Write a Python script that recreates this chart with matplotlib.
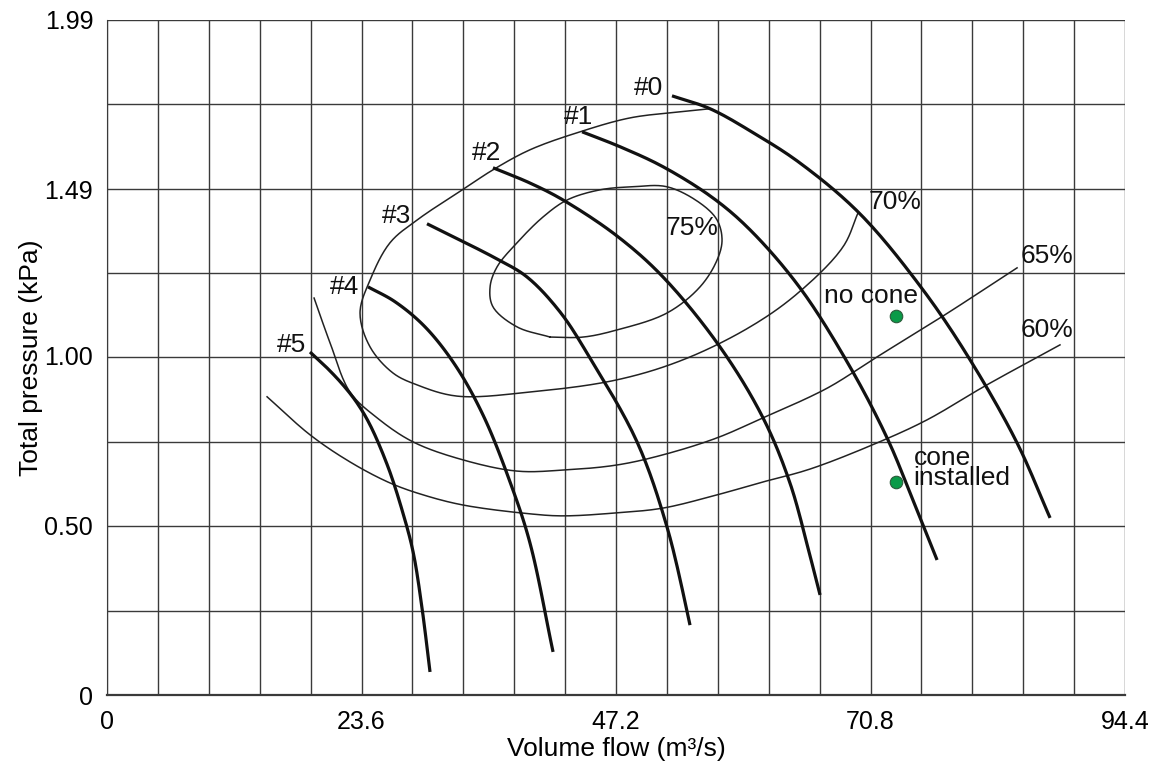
import numpy as np
import matplotlib
matplotlib.use("Agg")
import matplotlib.pyplot as plt

plt.rcParams['font.family'] = ['Liberation Sans', 'DejaVu Sans']

# fan curves (thick), volume flow m3/s vs total pressure kPa
fan0_x = [52.39, 55.92, 60.09, 64.26, 69.83, 75.67, 80.03, 84.39, 87.45]
fan0_y = [1.766, 1.728, 1.654, 1.568, 1.418, 1.194, 0.988, 0.743, 0.522]
fan1_x = [44.05, 47.57, 51.56, 56.19, 59.63, 64.26, 68.90, 72.42, 74.65, 76.97]
fan1_y = [1.660, 1.616, 1.557, 1.465, 1.371, 1.200, 0.967, 0.752, 0.581, 0.398]
fan2_x = [35.79, 39.22, 42.29, 47.29, 51.56, 56.84, 60.83, 63.33, 65.19, 66.12]
fan2_y = [1.554, 1.509, 1.459, 1.353, 1.232, 1.026, 0.817, 0.625, 0.410, 0.295]
fan3_x = [29.67, 36.17, 38.95, 42.01, 44.79, 49.15, 51.93, 53.78, 54.06]
fan3_y = [1.389, 1.285, 1.232, 1.129, 0.993, 0.746, 0.495, 0.248, 0.206]
fan4_x = [24.20, 26.71, 29.49, 32.27, 34.87, 37.37, 39.22, 41.36]
fan4_y = [1.203, 1.159, 1.085, 0.973, 0.825, 0.628, 0.448, 0.127]
fan5_x = [18.82, 20.31, 21.88, 23.18, 24.39, 26.06, 27.36, 28.38, 29.21, 29.95]
fan5_y = [1.011, 0.967, 0.914, 0.861, 0.796, 0.672, 0.545, 0.422, 0.256, 0.068]
fan_labels = ["#0", "#1", "#2", "#3", "#4", "#5"]
fan_label_x = [50.17, 43.68, 35.24, 26.80, 21.98, 17.06]
fan_label_y = [1.790, 1.704, 1.598, 1.412, 1.203, 1.032]

# efficiency contours (thin)
eff70_x = [55.92, 53.13, 48.50, 43.86, 39.22, 35.79, 33.38, 28.75, 26.24, 24.39, 23.46,
           24.39, 26.52, 28.75, 32.46, 39.22, 47.29, 53.41, 59.63, 64.08, 68.25, 69.64]
eff70_y = [1.728, 1.719, 1.701, 1.660, 1.607, 1.548, 1.498, 1.400, 1.333, 1.223, 1.126,
           1.026, 0.949, 0.914, 0.881, 0.893, 0.929, 0.988, 1.085, 1.185, 1.321, 1.421]
eff75_x = [41.08, 38.02, 35.79, 35.52, 36.17, 38.02, 40.43, 42.66, 45.72, 48.78, 51.93,
           54.99, 56.57, 57.03, 56.57, 54.99, 51.93, 47.29, 44.14, 41.08]
eff75_y = [1.055, 1.085, 1.144, 1.203, 1.262, 1.333, 1.409, 1.459, 1.489, 1.498, 1.498,
           1.450, 1.400, 1.341, 1.282, 1.203, 1.126, 1.076, 1.055, 1.055]
eff65_x = [19.20, 20.68, 22.53, 25.04, 28.38, 33.01, 38.02, 42.29, 47.29, 51.56, 56.57,
           60.83, 65.19, 67.32, 71.68, 77.52, 84.39]
eff65_y = [1.170, 1.038, 0.893, 0.817, 0.746, 0.693, 0.660, 0.663, 0.678, 0.708, 0.758,
           0.817, 0.879, 0.914, 1.002, 1.117, 1.259]
eff60_x = [14.84, 18.82, 22.53, 26.24, 29.30, 33.01, 39.22, 42.29, 47.29, 51.56, 56.57,
           60.83, 65.19, 71.40, 76.04, 81.42, 88.37]
eff60_y = [0.879, 0.767, 0.687, 0.625, 0.590, 0.560, 0.534, 0.528, 0.537, 0.551, 0.590,
           0.628, 0.666, 0.743, 0.811, 0.911, 1.032]
eff_labels = ["70%", "75%", "65%", "60%"]
eff_label_x = [73.07, 54.25, 87.17, 87.17]
eff_label_y = [1.453, 1.377, 1.294, 1.076]

# operating points
op_x = [73.16, 73.16]
op_y = [1.117, 0.628]

xticks = [0, 23.6, 47.2, 70.8, 94.4]
yticks = [0, 0.50, 1.00, 1.49, 1.99]
XMAX, YMAX = 94.4, 1.99


def smooth(xs, ys, n=16, alpha=0.5):
    # centripetal catmull-rom through the read points, only for drawing
    sx, sy = 1018 / XMAX, 675 / YMAX
    p = np.column_stack([np.asarray(xs) * sx, np.asarray(ys) * sy])
    p = np.vstack([2 * p[0] - p[1], p, 2 * p[-1] - p[-2]])
    out = []
    for i in range(1, len(p) - 2):
        P0, P1, P2, P3 = p[i - 1], p[i], p[i + 1], p[i + 2]
        t0 = 0.0
        t1 = t0 + np.linalg.norm(P1 - P0) ** alpha
        t2 = t1 + np.linalg.norm(P2 - P1) ** alpha
        t3 = t2 + np.linalg.norm(P3 - P2) ** alpha
        t = np.linspace(t1, t2, n, endpoint=False)[:, None]
        A1 = (t1 - t) / (t1 - t0) * P0 + (t - t0) / (t1 - t0) * P1
        A2 = (t2 - t) / (t2 - t1) * P1 + (t - t1) / (t2 - t1) * P2
        A3 = (t3 - t) / (t3 - t2) * P2 + (t - t2) / (t3 - t2) * P3
        B1 = (t2 - t) / (t2 - t0) * A1 + (t - t0) / (t2 - t0) * A2
        B2 = (t3 - t) / (t3 - t1) * A2 + (t - t1) / (t3 - t1) * A3
        out.append((t2 - t) / (t2 - t1) * B1 + (t - t1) / (t2 - t1) * B2)
    out.append(p[-2][None, :])
    out = np.vstack(out)
    return out[:, 0] / sx, out[:, 1] / sy


fig = plt.figure(figsize=(11.56, 7.69), dpi=100)
ax = fig.add_axes([0.0926, 0.0962, 0.8806, 0.878])

gx = np.linspace(0, XMAX, 21)
gy = np.linspace(0, YMAX, 9)
for v in gx:
    ax.axvline(v, color='#3a3a3a', lw=1.0, zorder=1)
for v in gy:
    ax.axhline(v, color='#3a3a3a', lw=1.0, zorder=1)

for xs, ys in [(eff70_x, eff70_y), (eff75_x, eff75_y), (eff65_x, eff65_y), (eff60_x, eff60_y)]:
    sx, sy = smooth(xs, ys)
    ax.plot(sx, sy, color='#222222', lw=1.1, zorder=2)

fans = [(fan0_x, fan0_y), (fan1_x, fan1_y), (fan2_x, fan2_y),
        (fan3_x, fan3_y), (fan4_x, fan4_y), (fan5_x, fan5_y)]
for xs, ys in fans:
    sx, sy = smooth(xs, ys)
    ax.plot(sx, sy, color='#111111', lw=2.3, zorder=3, solid_capstyle='butt')

for t, x, y in zip(fan_labels, fan_label_x, fan_label_y):
    ax.text(x, y, t, fontsize=19, ha='center', va='center', color='#111111', zorder=4)
for t, x, y in zip(eff_labels, eff_label_x, eff_label_y):
    ax.text(x, y, t, fontsize=19, ha='center', va='center', color='#111111', zorder=4)

ax.plot(op_x, op_y, 'o', ms=9, mfc='#0a9a48', mec='#2a5a3a', mew=0.8, zorder=5)
ax.text(70.85, 1.176, "no cone", fontsize=19, ha='center', va='center', color='#111111')
ax.text(74.80, 0.669, "cone\ninstalled", fontsize=19, ha='left', va='center',
        color='#111111', linespacing=0.8)

ax.set_xlim(0, XMAX)
ax.set_ylim(0, YMAX)
ax.set_xticks(xticks)
ax.set_xticklabels(["0", "23.6", "47.2", "70.8", "94.4"])
ax.set_yticks(yticks)
ax.set_yticklabels(["0", "0.50", "1.00", "1.49", "1.99"])
ax.tick_params(length=0, labelsize=18)
ax.tick_params(axis='x', pad=11)
ax.tick_params(axis='y', pad=10)
for s in ['top', 'right']:
    ax.spines[s].set_visible(False)
ax.spines['left'].set_color('#3a3a3a')
ax.spines['bottom'].set_color('#3a3a3a')
ax.spines['bottom'].set_linewidth(1.6)

ax.set_xlabel("Volume flow (m³/s)", fontsize=19, labelpad=2)
ax.set_ylabel("Total pressure (kPa)", fontsize=19, labelpad=1)

fig.savefig("out.png", dpi=100)
